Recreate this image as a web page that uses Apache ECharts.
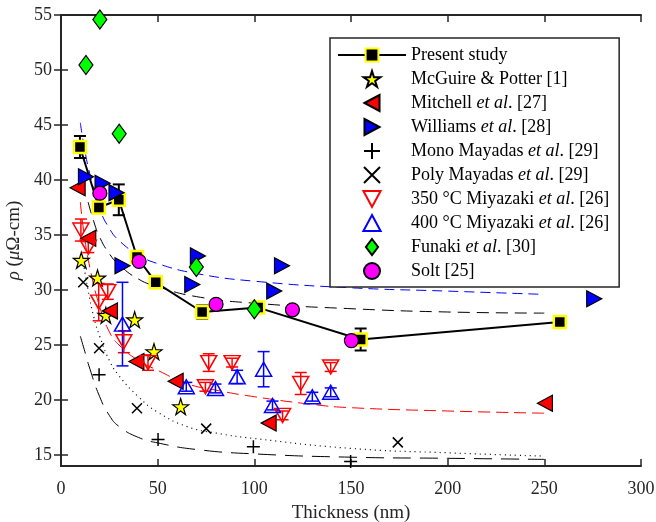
<!DOCTYPE html>
<html>
<head>
<meta charset="utf-8">
<script src="https://cdn.jsdelivr.net/npm/echarts@6/dist/echarts.min.js"></script>
<style>
  html, body { margin: 0; padding: 0; background: #fff; }
  #chart { width: 656px; height: 522px; }
</style>
</head>
<body>
<div id="chart"></div>
<script>
// values
var xTicks = [0, 50, 100, 150, 200, 250, 300];
var yTicks = [15, 20, 25, 30, 35, 40, 45, 50, 55];

var presentX = [9.8, 19.6, 29.9, 39.3, 49, 73, 102, 155, 258];
var presentY = [43, 37.5, 38.2, 33, 30.7, 28, 28.4, 25.5, 27.1];
var presentErr = [1.0, 0.5, 1.4, 0.4, 0.5, 0.6, 0.4, 1.0, 0.3];

var mcguire = [[10.5, 32.7], [18.9, 31.1], [23.2, 27.7], [38.1, 27.3], [48.1, 24.4], [61.9, 19.4]];
var mitchell = [[8.6, 39.3], [14.1, 34.7], [25.3, 28.1], [39, 23.5], [59.3, 21.7], [107.4, 17.9], [250.3, 19.7]];
var williams = [[12.9, 40.3], [21.5, 39.7], [28.7, 38.85], [31.8, 32.2], [70.8, 33.1], [67.9, 30.5], [110.3, 29.9], [114.3, 32.2], [275.8, 29.2]];
var monoMayadas = [[19.7, 22.3], [50.2, 16.4], [99.5, 15.75], [149.8, 14.4]];
var polyMayadas = [[11.5, 30.7], [19.7, 24.7], [39.3, 19.25], [75.1, 17.4], [174.2, 16.15]];

var miya350X = [10.3, 14.1, 19.5, 24.2, 32.5, 45, 76.4, 74.7, 88.5, 114.6, 124, 139.5];
var miya350Y = [35.45, 33.9, 28.9, 29.85, 25.3, 23.4, 23.4, 21.2, 23.4, 18.6, 21.5, 23];
var miya350Err = [1.0, 0.5, 1.7, 0.7, 1.0, 0.7, 0.8, 0.4, 0.4, 0.4, 1.0, 0.4];

var miya400X = [31.8, 64.8, 79.9, 91.1, 104.8, 109.4, 130, 139.5];
var miya400Y = [26.9, 21.2, 21.05, 22.1, 22.8, 19.5, 20.3, 20.7];
var miya400Err = [3.8, 0.4, 0.4, 0.6, 1.6, 0.4, 0.4, 0.4];

var funaki = [[20.1, 54.6], [12.9, 50.45], [30.1, 44.2], [70, 32.1], [100, 28.25]];
var solt = [[20.1, 38.8], [40.4, 32.6], [80.2, 28.7], [119.7, 28.2], [150.2, 25.4]];

// fitted curves, points
var fitBlue = [[10, 45.2], [12, 43], [15, 40.5], [20, 37.4], [25, 35.6], [30, 34.5], [40, 33.2], [50, 32.4], [70, 31.5], [100, 30.8], [150, 30.2], [200, 29.9], [250, 29.6]];
var fitBlack = [[14, 38], [17, 36.2], [20, 34.8], [25, 33.3], [30, 32.3], [40, 31], [50, 30.3], [70, 29.4], [100, 28.8], [150, 28.3], [200, 28], [250, 27.9]];
var fitRed = [[10, 38], [12, 35], [15, 32], [20, 28.5], [25, 26.2], [30, 25], [40, 23.6], [50, 22.7], [65, 21.5], [80, 20.9], [100, 20.3], [130, 19.6], [150, 19.3], [200, 19], [250, 18.8]];
var fitDotted = [[12, 32], [14, 30], [17, 27.5], [20, 25.8], [25, 23.6], [30, 22.2], [40, 20.3], [50, 18.9], [65, 17.6], [80, 17], [100, 16.5], [150, 15.6], [200, 15.2], [250, 14.9]];
var fitLongDash = [[10, 25.8], [12, 24.6], [15, 22.8], [20, 20.3], [25, 18.6], [30, 17.6], [40, 16.6], [50, 16.1], [70, 15.5], [100, 15.1], [150, 14.8], [200, 14.7], [250, 14.6]];

var names = [
  'Present study',
  'McGuire & Potter [1]',
  'Mitchell et al. [27]',
  'Williams et al. [28]',
  'Mono Mayadas et al. [29]',
  'Poly Mayadas et al. [29]',
  '350 °C Miyazaki et al. [26]',
  '400 °C Miyazaki et al. [26]',
  'Funaki et al. [30]',
  'Solt [25]'
];

var starPath = 'path://M50,0L61,35L98,35L68,57L79,91L50,70L21,91L32,57L2,35L39,35Z';
var plusPath = 'path://M0,50L100,50M50,0L50,100';
var crossPath = 'path://M0,0L100,100M100,0L0,100';
var triLeft = 'path://M0,50L94,0L94,100Z';
var triRight = 'path://M0,0L94,50L0,100Z';
var triUp = 'path://M50,0L100,93L0,93Z';
var triDown = 'path://M0,0L100,0L50,93Z';
var diamondPath = 'path://M38,0L76,50L38,100L0,50Z';

function zip(xs, ys) {
  return xs.map(function (x, i) { return [x, ys[i]]; });
}
function errData(xs, ys, es) {
  return xs.map(function (x, i) { return [x, ys[i] - es[i], ys[i] + es[i]]; });
}
function errSeries(name, data, color, width, cap) {
  return {
    name: name,
    type: 'custom',
    data: data,
    encode: { x: 0, y: [1, 2] },
    z: 2,
    renderItem: function (params, api) {
      var x = api.value(0);
      var lo = api.coord([x, api.value(1)]);
      var hi = api.coord([x, api.value(2)]);
      var st = { stroke: color, lineWidth: width };
      return {
        type: 'group',
        children: [
          { type: 'line', shape: { x1: lo[0], y1: lo[1], x2: hi[0], y2: hi[1] }, style: st },
          { type: 'line', shape: { x1: lo[0] - cap, y1: lo[1], x2: lo[0] + cap, y2: lo[1] }, style: st },
          { type: 'line', shape: { x1: hi[0] - cap, y1: hi[1], x2: hi[0] + cap, y2: hi[1] }, style: st }
        ]
      };
    }
  };
}
function fitSeries(data, color, dash, width) {
  return {
    type: 'line', data: data, smooth: true, showSymbol: false, silent: true, z: 1,
    lineStyle: { color: color, width: width || 1, type: dash }
  };
}
function scatter(name, data, symbol, size, fill, edge, bw) {
  return {
    name: name, type: 'scatter', data: data, symbol: symbol, symbolSize: size,
    symbolKeepAspect: false, z: 3,
    itemStyle: { color: fill, borderColor: edge, borderWidth: bw, opacity: 1 }
  };
}

var serif = 'Liberation Serif';
var axisColor = '#262626';

var chart = echarts.init(document.getElementById('chart'));
chart.setOption({
  animation: false,
  backgroundColor: '#fff',
  textStyle: { fontFamily: serif },
  grid: { left: 61, right: 15, top: 15, bottom: 56, outerBoundsMode: 'none' },
  xAxis: [{
    type: 'value', min: 0, max: 300, interval: 50,
    name: 'Thickness (nm)', nameLocation: 'middle', nameGap: 38,
    nameTextStyle: { fontFamily: serif, fontSize: 19, color: axisColor },
    axisLine: { show: true, lineStyle: { color: axisColor, width: 2 } },
    axisTick: { inside: true, length: 7, lineStyle: { color: axisColor, width: 1.5 } },
    axisLabel: { fontFamily: serif, fontSize: 18, color: axisColor, margin: 14 },
    splitLine: { show: false }
  }, {
    type: 'value', min: 0, max: 300, interval: 50, position: 'top',
    axisLine: { show: true, lineStyle: { color: axisColor, width: 2 } },
    axisTick: { inside: true, length: 7, lineStyle: { color: axisColor, width: 1.5 } },
    axisLabel: { show: false }, splitLine: { show: false }
  }],
  yAxis: [{
    type: 'value', min: 14, max: 55,
    name: '{i|ρ} ({i|μ}Ω-cm)', nameLocation: 'middle', nameGap: 33,
    nameTextStyle: {
      fontFamily: serif, fontSize: 19, color: axisColor,
      rich: { i: { fontFamily: serif, fontStyle: 'italic', fontSize: 19, color: axisColor } }
    },
    axisLine: { show: true, lineStyle: { color: axisColor, width: 2 } },
    axisTick: { inside: true, length: 7, customValues: yTicks, lineStyle: { color: axisColor, width: 1.5 } },
    axisLabel: { fontFamily: serif, fontSize: 18, color: axisColor, margin: 9, customValues: yTicks },
    splitLine: { show: false }
  }, {
    type: 'value', min: 14, max: 55, position: 'right',
    axisLine: { show: true, lineStyle: { color: axisColor, width: 2 } },
    axisTick: { inside: true, length: 7, customValues: yTicks, lineStyle: { color: axisColor, width: 1.5 } },
    axisLabel: { show: false }, splitLine: { show: false }
  }],
  legend: {
    data: names,
    orient: 'vertical',
    left: 330, top: 38,
    padding: [8, 10, 7, 7],
    itemWidth: 68, itemHeight: 16, itemGap: 6,
    symbolKeepAspect: true,
    borderColor: axisColor, borderWidth: 1.5, borderRadius: 0,
    backgroundColor: '#fff',
    selectedMode: false,
    textStyle: {
      fontFamily: serif, fontSize: 18, color: '#000', lineHeight: 16,
      rich: { i: { fontFamily: serif, fontStyle: 'italic', fontSize: 18, color: '#000', lineHeight: 16 } }
    },
    formatter: function (n) {
      return n.replace('et al', '{i|et al}');
    }
  },
  series: [
    fitSeries(fitBlue, '#0000ff', [10, 6], 1),
    fitSeries(fitBlack, '#000', [12, 7], 1),
    fitSeries(fitRed, '#ff0000', [12, 6], 1),
    fitSeries(fitDotted, '#000', [1, 4], 1.2),
    fitSeries(fitLongDash, '#000', [18, 9], 1),
    errSeries('errPresent', errData(presentX, presentY, presentErr), '#000', 2, 6),
    {
      name: names[0], type: 'line', data: zip(presentX, presentY), z: 3,
      symbol: 'rect', symbolSize: 12,
      lineStyle: { color: '#000', width: 2 },
      itemStyle: { color: '#000', borderColor: '#ffff00', borderWidth: 2.5 }
    },
    scatter(names[1], mcguire, starPath, 16, '#ffff00', '#000', 1.2),
    scatter(names[2], mitchell, triLeft, [15, 16], '#ff0000', '#000', 1.2),
    scatter(names[3], williams, triRight, [15, 16], '#0000ff', '#000', 1.2),
    scatter(names[4], monoMayadas, plusPath, 13, '#000', '#000', 1.5),
    scatter(names[5], polyMayadas, crossPath, 10, '#000', '#000', 1.5),
    errSeries('err350', errData(miya350X, miya350Y, miya350Err), '#ff0000', 1.5, 6),
    scatter(names[6], zip(miya350X, miya350Y), triDown, [16, 14], 'rgba(255,255,255,0)', '#ff0000', 1.5),
    errSeries('err400', errData(miya400X, miya400Y, miya400Err), '#0000ff', 1.5, 6),
    scatter(names[7], zip(miya400X, miya400Y), triUp, [16, 14], 'rgba(255,255,255,0)', '#0000ff', 1.5),
    scatter(names[8], funaki, diamondPath, [14, 19], '#00ff00', '#000', 1.2),
    scatter(names[9], solt, 'circle', 14, '#ff00ff', '#000', 1.2)
  ]
});
</script>
</body>
</html>
